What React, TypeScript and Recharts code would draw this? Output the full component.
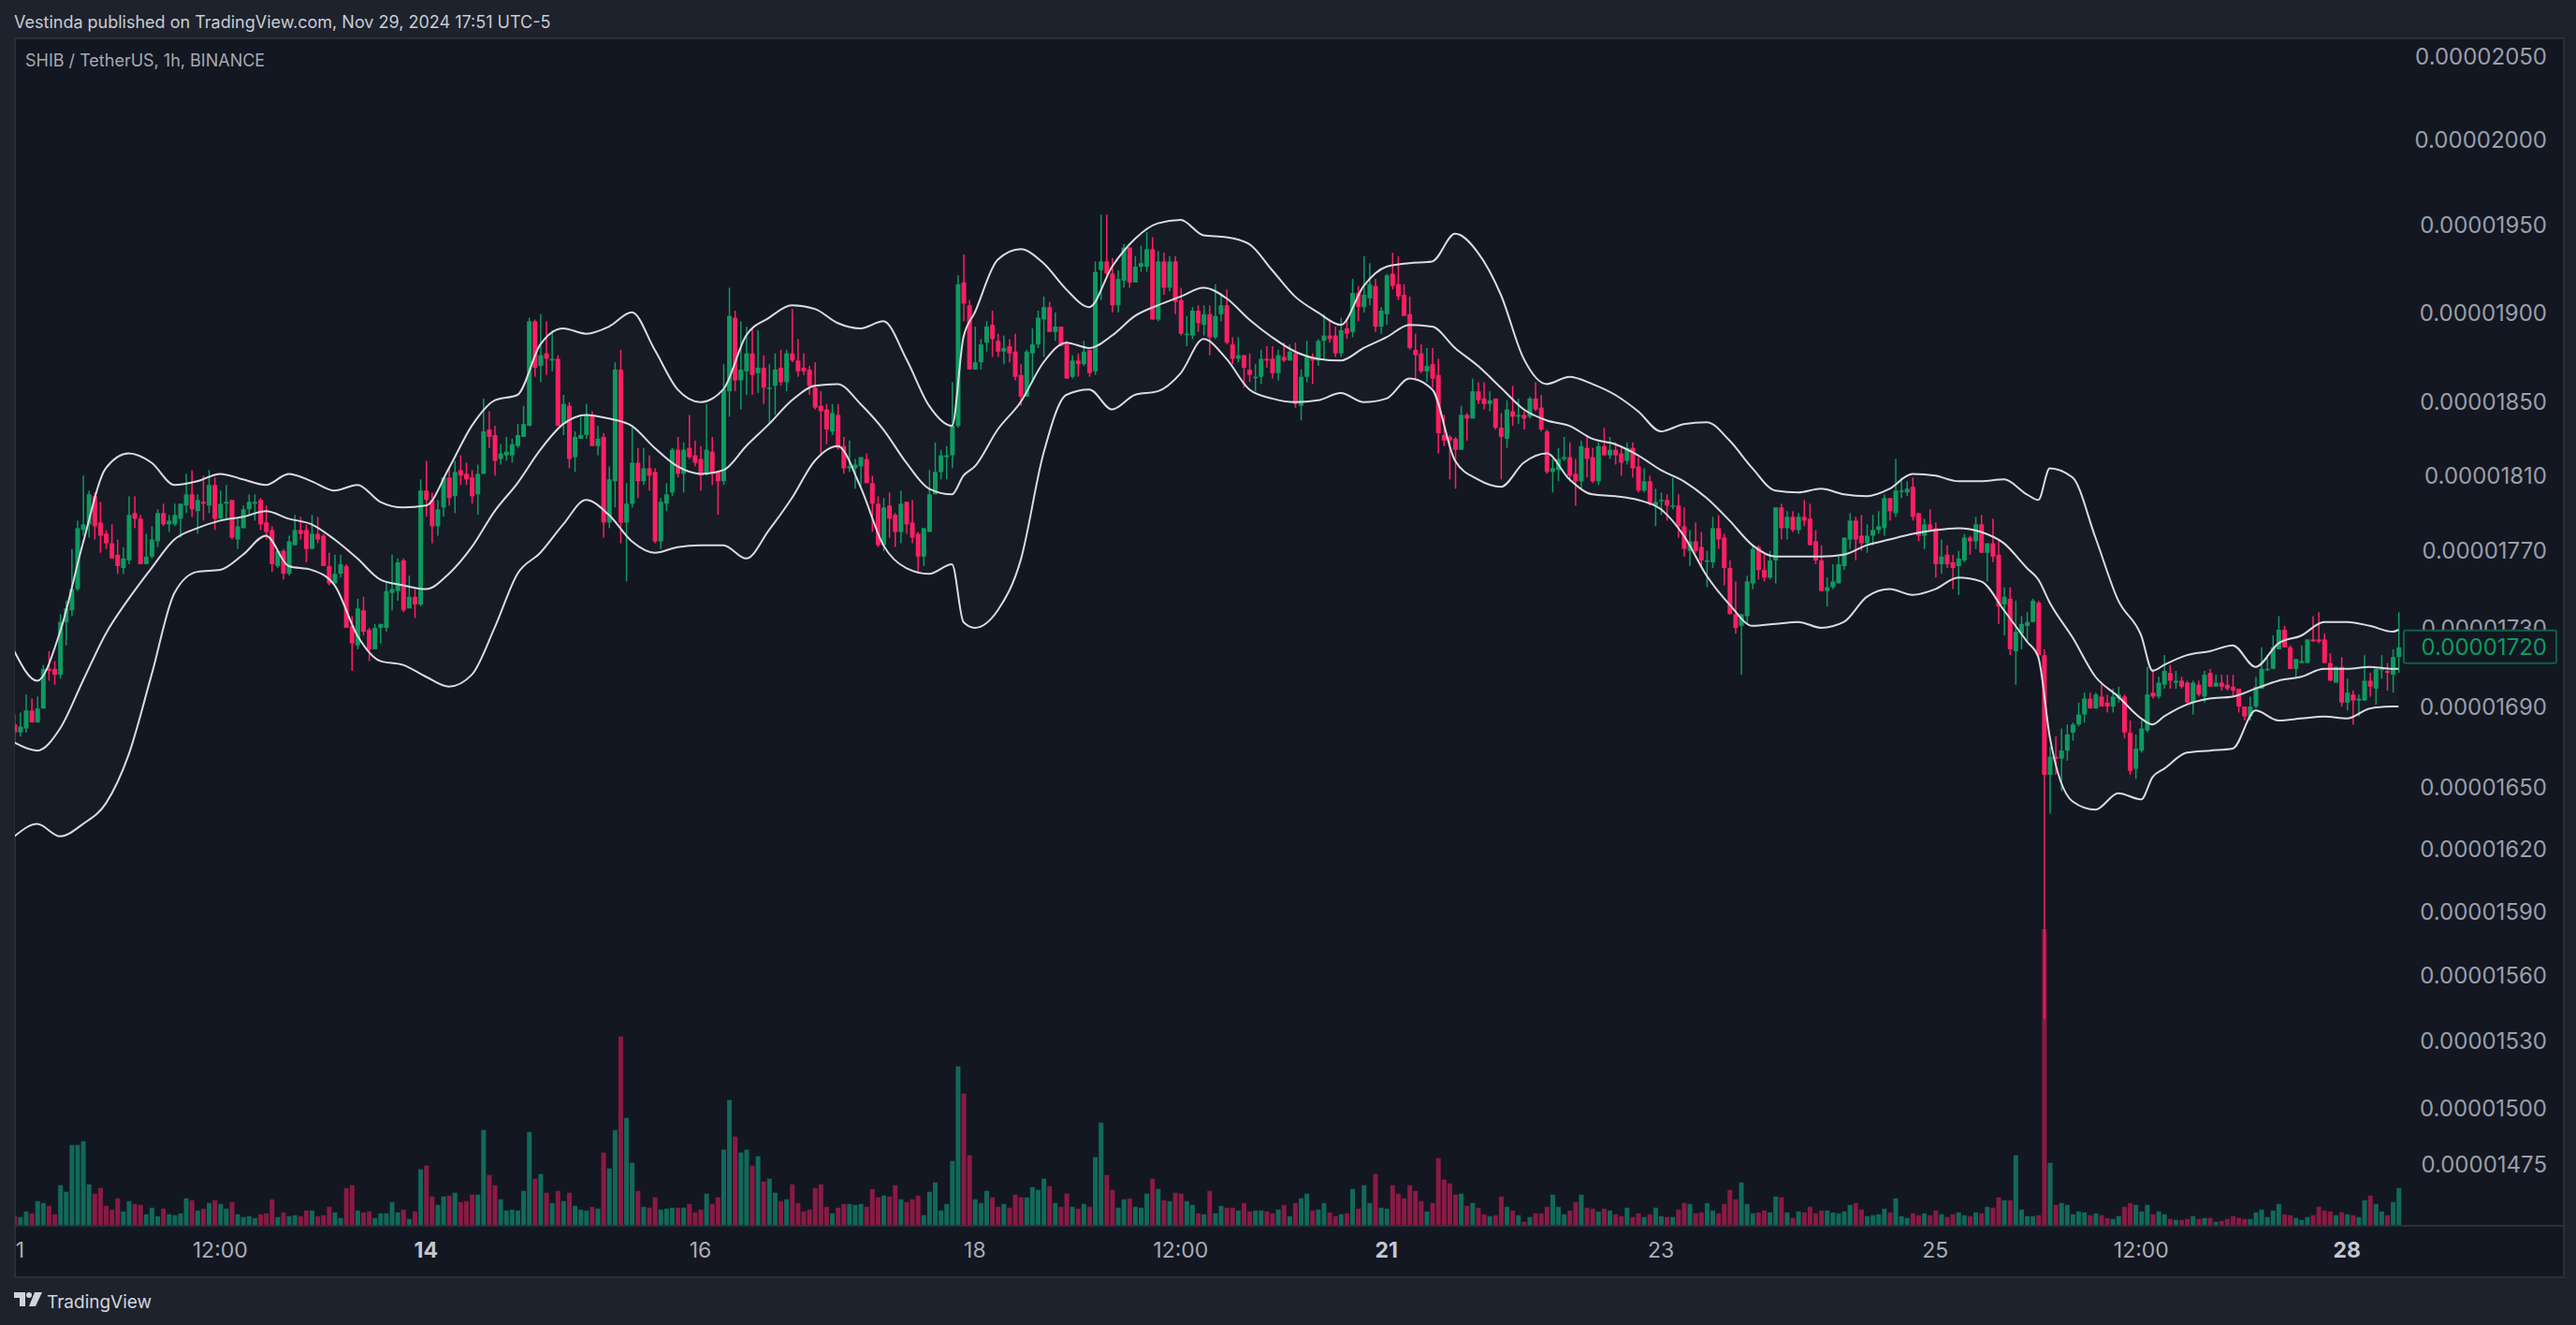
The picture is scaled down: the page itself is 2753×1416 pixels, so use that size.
import { Area, Bar, ComposedChart, Line, XAxis, YAxis } from 'recharts'

// SHIB/USDT 1h, prices in units of 0.00000001, hour 0 = Nov 11 00:00
const opens = [
  1681,1677,1679,1688,1682,1689,1709,1709,1706,1733, 1739,1750,1781,1784,1799,1785,1779,1774,1768,1761,
  1765,1790,1787,1763,1767,1775,1790,1784,1784,1787, 1794,1800,1791,1796,1794,1805,1787,1795,1797,1776,
  1782,1792,1795,1797,1785,1781,1762,1770,1758,1773, 1781,1781,1771,1779,1778,1762,1753,1758,1762,1731,
  1721,1739,1729,1719,1730,1730,1748,1749,1765,1740, 1746,1742,1802,1797,1783,1793,1809,1799,1813,1811,
  1809,1800,1811,1835,1832,1819,1821,1821,1826,1831, 1837,1895,1870,1877,1873,1874,1838,1848,1820,1830,
  1832,1843,1826,1831,1785,1807,1868,1785,1795,1817, 1807,1814,1812,1775,1795,1801,1824,1811,1825,1821,
  1819,1811,1823,1812,1807,1856,1897,1862,1867,1877, 1866,1869,1858,1859,1869,1861,1877,1873,1869,1868,
  1858,1848,1846,1834,1843,1826,1814,1814,1815,1819, 1806,1795,1773,1794,1789,1780,1796,1785,1779,1767,
  1780,1800,1812,1820,1821,1837,1917,1904,1868,1872, 1883,1893,1884,1878,1881,1878,1865,1853,1877,1882,
  1896,1903,1889,1892,1882,1864,1873,1871,1879,1867, 1924,1929,1922,1904,1918,1937,1917,1926,1926,1936,
  1896,1929,1914,1929,1907,1888,1887,1901,1893,1899, 1886,1899,1904,1882,1874,1876,1868,1864,1864,1874,
  1874,1866,1875,1873,1877,1848,1864,1875,1873,1884, 1887,1887,1877,1891,1889,1911,1903,1908,1915,1892,
  1899,1922,1916,1910,1899,1879,1877,1867,1871,1865, 1832,1831,1830,1824,1843,1841,1856,1852,1849,1852,
  1836,1830,1845,1842,1843,1842,1852,1847,1834,1812, 1813,1819,1820,1811,1807,1825,1820,1807,1826,1821,
  1824,1822,1818,1825,1815,1802,1807,1794,1797,1797, 1794,1794,1783,1770,1775,1772,1765,1764,1782,1777,
  1761,1737,1731,1736,1753,1772,1760,1756,1765,1793, 1782,1788,1781,1788,1787,1775,1765,1749,1751,1753,
  1762,1776,1786,1778,1774,1778,1781,1782,1798,1790, 1802,1801,1804,1790,1778,1784,1782,1763,1768,1764,
  1762,1765,1777,1775,1784,1769,1774,1768,1742,1745, 1718,1727,1731,1733,1743,1716,1656,1665,1664,1668,
  1677,1681,1686,1694,1689,1695,1692,1690,1694,1695, 1677,1659,1668,1678,1697,1695,1701,1707,1702,1703,
  1702,1692,1701,1695,1707,1700,1702,1701,1700,1699, 1690,1685,1690,1699,1709,1709,1719,1729,1720,1709,
  1712,1712,1724,1724,1724,1712,1702,1710,1692,1696, 1693,1693,1703,1699,1709,1708,1706,1715,
]
const highs = [
  1686,1687,1696,1694,1695,1711,1718,1713,1737,1744, 1771,1786,1810,1802,1801,1796,1781,1784,1776,1772,
  1799,1799,1789,1779,1783,1792,1795,1789,1795,1795, 1811,1813,1800,1810,1813,1809,1802,1805,1797,1787,
  1794,1800,1800,1798,1794,1783,1770,1771,1778,1789, 1788,1784,1789,1788,1779,1769,1768,1768,1763,1736,
  1745,1746,1730,1732,1732,1754,1768,1766,1766,1757, 1750,1808,1818,1801,1797,1809,1815,1818,1821,1817,
  1813,1816,1852,1845,1837,1827,1831,1830,1838,1848, 1897,1896,1899,1895,1890,1876,1854,1850,1834,1842,
  1849,1845,1837,1833,1815,1872,1879,1806,1836,1825, 1825,1821,1814,1798,1806,1825,1831,1828,1843,1829,
  1826,1849,1831,1812,1871,1914,1901,1895,1892,1891, 1890,1876,1871,1877,1879,1879,1902,1885,1877,1870,
  1872,1856,1849,1849,1849,1831,1829,1819,1820,1822, 1810,1799,1798,1801,1790,1802,1796,1797,1780,1782,
  1813,1828,1824,1826,1861,1921,1933,1907,1892,1885, 1895,1901,1888,1887,1885,1888,1871,1879,1891,1901,
  1909,1906,1900,1892,1884,1876,1877,1884,1879,1929, 1956,1956,1931,1924,1939,1937,1932,1938,1946,1943,
  1935,1934,1932,1932,1914,1898,1903,1904,1904,1904, 1916,1911,1913,1886,1886,1876,1877,1871,1879,1881,
  1881,1879,1883,1882,1883,1868,1884,1877,1885,1899, 1896,1892,1897,1897,1919,1915,1932,1928,1919,1903,
  1922,1934,1932,1916,1909,1888,1882,1880,1880,1874, 1843,1832,1831,1848,1844,1863,1861,1861,1856,1852,
  1844,1851,1859,1852,1845,1853,1861,1854,1835,1819, 1825,1831,1828,1819,1829,1832,1825,1828,1836,1831,
  1828,1825,1828,1828,1820,1814,1810,1803,1801,1800, 1809,1800,1793,1781,1785,1780,1770,1788,1789,1779,
  1765,1754,1737,1757,1773,1773,1768,1770,1793,1795, 1791,1791,1790,1797,1795,1781,1773,1756,1763,1767,
  1777,1790,1788,1789,1784,1789,1791,1800,1798,1819, 1809,1807,1809,1790,1787,1792,1785,1776,1773,1768,
  1770,1779,1778,1788,1789,1774,1787,1776,1751,1751, 1744,1736,1738,1745,1744,1719,1670,1675,1679,1681,
  1682,1692,1697,1697,1697,1701,1696,1699,1700,1696, 1683,1676,1683,1710,1709,1705,1716,1711,1708,1705,
  1703,1703,1703,1708,1709,1706,1706,1706,1706,1699, 1690,1695,1705,1720,1716,1726,1736,1731,1721,1714,
  1721,1724,1736,1738,1727,1717,1710,1715,1704,1698, 1696,1716,1707,1709,1716,1712,1719,1738,
]
const lows = [
  1672,1675,1677,1682,1682,1689,1703,1701,1704,1721, 1736,1749,1778,1777,1776,1769,1771,1766,1758,1758,
  1763,1782,1763,1763,1766,1772,1783,1780,1783,1777, 1790,1788,1779,1786,1790,1781,1787,1787,1776,1771,
  1782,1789,1786,1781,1776,1759,1761,1755,1757,1773, 1776,1764,1771,1774,1762,1752,1753,1756,1730,1708,
  1719,1726,1713,1719,1722,1728,1739,1744,1738,1740, 1735,1741,1788,1774,1778,1788,1794,1790,1805,1805,
  1795,1789,1811,1825,1810,1816,1818,1817,1825,1831, 1837,1864,1861,1865,1867,1837,1832,1814,1812,1830,
  1830,1826,1821,1777,1782,1793,1774,1754,1793,1798, 1805,1802,1774,1771,1791,1799,1809,1801,1819,1815,
  1802,1810,1805,1789,1805,1842,1856,1846,1854,1854, 1855,1849,1838,1843,1859,1856,1872,1864,1865,1854,
  1846,1822,1827,1832,1824,1811,1812,1803,1804,1806, 1780,1772,1770,1777,1772,1774,1779,1774,1759,1762,
  1780,1800,1808,1808,1814,1836,1895,1868,1868,1868, 1878,1875,1875,1871,1872,1862,1848,1853,1861,1880,
  1875,1889,1884,1881,1863,1863,1864,1870,1864,1865, 1907,1921,1900,1900,1914,1914,1917,1923,1923,1896,
  1895,1910,1912,1899,1887,1881,1885,1889,1887,1876, 1885,1895,1882,1871,1872,1858,1861,1856,1860,1869,
  1863,1862,1872,1873,1847,1840,1861,1860,1870,1874, 1883,1875,1875,1885,1886,1895,1900,1904,1889,1888,
  1893,1913,1907,1898,1879,1862,1866,1861,1858,1822, 1826,1808,1803,1824,1829,1841,1849,1846,1845,1835,
  1808,1825,1837,1838,1835,1841,1845,1834,1811,1801, 1807,1818,1807,1794,1803,1809,1806,1805,1821,1819,
  1816,1810,1816,1809,1801,1801,1794,1783,1789,1786, 1792,1777,1767,1762,1769,1762,1751,1761,1771,1752,
  1737,1727,1706,1732,1750,1755,1754,1755,1753,1776, 1776,1780,1779,1783,1773,1763,1749,1741,1750,1753,
  1760,1771,1765,1770,1769,1773,1779,1778,1786,1788, 1798,1799,1786,1775,1771,1780,1756,1758,1761,1750,
  1747,1764,1768,1771,1769,1754,1764,1732,1726,1716, 1701,1719,1723,1733,1715,1540,1637,1656,1648,1663,
  1673,1680,1682,1689,1689,1690,1687,1687,1692,1674, 1656,1654,1667,1677,1694,1694,1699,1699,1699,1699,
  1691,1686,1695,1692,1700,1700,1698,1698,1695,1687, 1683,1683,1689,1699,1708,1709,1719,1720,1709,1705,
  1712,1712,1723,1722,1712,1703,1702,1690,1688,1681, 1685,1693,1695,1691,1704,1698,1697,1707,
]
const closes = [
  1677,1680,1688,1682,1689,1709,1708,1706,1733,1740, 1750,1782,1784,1800,1783,1778,1774,1766,1762,1766,
  1789,1787,1763,1767,1776,1790,1784,1786,1789,1795, 1800,1792,1797,1795,1805,1787,1795,1796,1777,1783,
  1792,1796,1796,1784,1780,1763,1770,1758,1775,1781, 1779,1771,1779,1776,1762,1753,1758,1763,1730,1722,
  1740,1728,1719,1730,1732,1749,1750,1764,1739,1746, 1742,1802,1797,1783,1792,1809,1798,1812,1810,1808,
  1799,1811,1834,1831,1818,1822,1823,1827,1832,1838, 1895,1869,1876,1874,1874,1837,1849,1819,1831,1832,
  1843,1826,1830,1785,1808,1868,1785,1795,1817,1807, 1814,1810,1775,1796,1800,1824,1811,1824,1820,1817,
  1810,1824,1811,1807,1857,1898,1862,1868,1877,1865, 1869,1858,1858,1868,1861,1877,1873,1867,1867,1859,
  1847,1845,1835,1844,1825,1814,1815,1816,1820,1806, 1795,1773,1793,1787,1780,1795,1784,1777,1767,1782,
  1800,1812,1821,1821,1837,1916,1905,1868,1872,1882, 1892,1885,1878,1880,1877,1864,1853,1878,1882,1897,
  1903,1889,1892,1881,1863,1873,1871,1878,1866,1923, 1929,1922,1904,1919,1937,1917,1926,1928,1936,1896,
  1929,1914,1929,1906,1888,1888,1901,1894,1899,1886, 1898,1904,1883,1874,1876,1869,1865,1864,1874,1873,
  1866,1876,1873,1878,1849,1864,1875,1873,1884,1887, 1885,1877,1890,1888,1911,1903,1910,1916,1892,1901,
  1921,1915,1909,1898,1880,1876,1867,1870,1863,1833, 1829,1829,1824,1843,1841,1856,1851,1849,1851,1836,
  1831,1846,1842,1843,1841,1852,1846,1835,1812,1814, 1819,1820,1810,1807,1826,1819,1807,1826,1821,1824,
  1821,1817,1825,1814,1802,1807,1795,1796,1797,1794, 1794,1783,1771,1775,1770,1765,1765,1782,1776,1761,
  1737,1730,1737,1754,1771,1760,1756,1765,1793,1782, 1788,1781,1788,1786,1773,1765,1749,1751,1754,1763,
  1777,1786,1776,1774,1778,1781,1783,1798,1791,1802, 1802,1803,1788,1778,1784,1781,1763,1767,1763,1761,
  1766,1777,1775,1784,1769,1774,1767,1741,1746,1719, 1728,1732,1733,1744,1716,1656,1665,1664,1668,1676,
  1681,1686,1694,1689,1696,1690,1690,1695,1696,1677, 1658,1669,1679,1696,1695,1702,1708,1703,1703,1700,
  1692,1702,1696,1706,1700,1702,1700,1699,1698,1690, 1685,1690,1700,1709,1709,1720,1729,1720,1709,1714,
  1713,1724,1723,1723,1712,1703,1710,1692,1697,1693, 1694,1703,1700,1709,1709,1707,1715,1720,
]
const volumes = [
  28,25,43,37,76,70,61,34,127,106, 256,256,268,130,100,118,61,49,85,43,
  76,67,64,34,55,28,52,34,31,37, 85,79,46,52,70,79,67,52,73,34,
  25,28,22,34,37,82,25,40,28,31, 28,46,46,28,31,58,40,22,118,127,
  46,40,43,22,37,37,73,40,49,19, 43,178,190,91,64,91,94,103,73,76,
  97,97,304,160,127,82,46,49,46,109, 298,148,163,103,70,109,76,103,61,49,
  46,58,52,232,181,304,604,343,199,109, 58,55,88,49,52,55,55,55,67,40,
  49,100,67,88,241,400,283,232,241,190, 220,139,148,103,76,82,130,70,43,49,
  118,130,58,37,55,67,67,64,67,58, 115,88,94,91,127,82,73,82,94,31,
  106,136,46,67,205,508,421,223,82,70, 109,88,58,67,55,97,88,88,121,112,
  148,124,70,58,100,58,52,67,58,217, 328,160,112,55,82,85,58,55,100,148,
  115,79,76,103,100,76,64,37,34,109, 37,61,55,55,46,70,43,46,46,43,
  37,49,64,28,70,85,100,46,49,70, 40,28,34,37,115,52,127,70,163,55,
  52,127,100,85,127,109,76,43,70,214, 145,133,97,100,61,70,55,34,28,31,
  91,58,46,31,10,25,37,37,58,97, 58,34,46,73,97,55,52,43,52,46,
  34,28,55,25,37,25,34,55,28,25, 25,49,70,67,37,40,70,46,37,67,
  112,82,136,67,37,40,46,40,91,88, 40,22,43,40,58,37,46,46,40,37,
  43,64,70,49,28,31,34,52,40,85, 28,22,37,31,37,31,46,34,25,34,
  40,31,28,40,37,58,55,88,79,79, 223,49,28,28,31,948,199,64,70,64,
  34,43,40,31,37,31,22,19,28,58, 70,64,43,64,34,43,34,19,16,16,
  19,28,19,22,22,10,13,19,28,22, 19,19,40,49,25,46,67,34,31,22,
  16,25,31,58,46,43,31,40,34,31, 25,79,94,67,43,31,73,118,
]

const bandHours = [
  0,4,8,12,16,20,24,28,32,36,40,44,48,52,56,60,64,68,72,76,80,84,88,92,96,100,104,108,112,116,120,124,128,132,136,140,144,148,152,156,160,164,166,168,
  172,176,180,184,188,192,196,200,204,208,212,216,220,224,228,232,236,240,244,248,252,256,260,264,268,272,276,280,284,288,292,296,300,304,308,312,316,320,
  324,328,332,336,340,344,348,352,354,356,360,364,368,372,374,376,380,384,388,392,396,400,404,408,412,416,417,
]
const upperBand = [
  1718,1703,1728,1774,1814,1822,1817,1805,1807,1811,1808,1805,1811,1807,1802,1805,1796,1793,1794,1814,1837,1851,1854,1882,1891,1888,1892,1900,1879,1857,1850,1857,1887,1897,1904,1902,1894,1891,1895,1874,1848,1837,1886,1900,
  1930,1936,1928,1913,1903,1926,1942,1951,1953,1944,1943,1939,1924,1909,1900,1893,1915,1926,1928,1929,1945,1934,1910,1874,1860,1864,1860,1854,1845,1834,1838,1839,1829,1814,1802,1801,1803,1800,
  1799,1803,1811,1810,1807,1807,1808,1800,1797,1814,1809,1777,1744,1726,1708,1711,1716,1718,1721,1710,1722,1726,1733,1733,1731,1728,1729,
]
const basisBand = [
  1672,1668,1679,1703,1727,1745,1761,1776,1782,1786,1788,1791,1787,1784,1776,1766,1755,1752,1750,1758,1772,1791,1806,1824,1838,1843,1841,1837,1825,1815,1811,1813,1826,1838,1851,1859,1860,1849,1835,1817,1803,1800,1810,1815,
  1835,1850,1872,1883,1880,1887,1898,1904,1909,1914,1908,1896,1886,1878,1874,1873,1880,1886,1893,1892,1880,1870,1858,1846,1840,1837,1830,1827,1821,1813,1807,1798,1786,1773,1767,1767,1767,1768,
  1773,1776,1779,1781,1782,1780,1774,1761,1755,1743,1725,1705,1695,1684,1681,1685,1691,1694,1695,1699,1703,1705,1709,1709,1710,1709,1709,
]
const lowerBand = [
  1626,1632,1626,1632,1642,1666,1706,1748,1759,1760,1768,1778,1762,1760,1752,1726,1713,1711,1705,1700,1706,1730,1758,1769,1784,1797,1789,1775,1769,1772,1773,1773,1766,1781,1798,1818,1826,1804,1773,1761,1758,1763,1733,1730,
  1739,1765,1822,1854,1857,1846,1854,1856,1866,1885,1874,1857,1852,1850,1851,1855,1850,1852,1863,1857,1818,1808,1804,1817,1822,1808,1800,1799,1797,1792,1778,1757,1742,1731,1732,1733,1730,1733,
  1746,1750,1747,1750,1756,1754,1739,1723,1715,1675,1643,1639,1647,1644,1655,1659,1667,1668,1669,1688,1683,1684,1685,1684,1689,1690,1690,
]

const priceTicks = [2050,2000,1950,1900,1850,1810,1770,1730,1690,1650,1620,1590,1560,1530,1500,1475,1720]
const LAST_PRICE = 1720
const timeTicks = [1,36,72,120,168,204,240,288,336,372,408]
const timeLabels = ['1','12:00','14','16','18','12:00','21','23','25','12:00','28']
const boldLabels = ['14','21','28']

const UP = '#0e9a60'
const DOWN = '#ff1f63'
const VOL_UP = '#11695a'
const VOL_DOWN = '#8a1a44'
const FONT = 'Inter, "Noto Sans", sans-serif'

const bandByHour = new Map(bandHours.map((h, k) => [h, k]))
const rows = closes.map((close, i) => {
  const k = bandByHour.get(i)
  return {
    hour: i,
    open: opens[i],
    close,
    high: highs[i],
    low: lows[i],
    range: [lows[i], highs[i]],
    volume: volumes[i],
    upper: k == null ? null : upperBand[k],
    basis: k == null ? null : basisBand[k],
    lower: k == null ? null : lowerBand[k],
    band: k == null ? null : [lowerBand[k], upperBand[k]],
  }
})

function Candle(props: any) {
  const { x, y, width, height, payload } = props
  const top = Math.min(y, y + height)
  const span = Math.abs(height)
  const cx = x + width / 2
  const { open, close, high, low } = payload
  // bar covers low..high on the log axis, so place the body inside it the same way
  const at = (p: number) => top + ((Math.log(high) - Math.log(p)) / (Math.log(high) - Math.log(low))) * span
  const color = close >= open ? UP : DOWN
  const bodyTop = at(Math.max(open, close))
  const bodyHeight = Math.max(at(Math.min(open, close)) - bodyTop, 1.5)
  return (
    <g>
      <rect x={cx - 0.75} y={top} width={1.5} height={span} fill={color} />
      <rect x={cx - 2.5} y={bodyTop} width={5} height={bodyHeight} fill={color} />
    </g>
  )
}

function VolumeBar(props: any) {
  const { x, y, width, height, payload } = props
  return <rect x={x} y={y} width={width} height={height} fill={payload.close >= payload.open ? VOL_UP : VOL_DOWN} />
}

function PriceTick({ y, payload }: any) {
  const label = (payload.value / 1e8).toFixed(8)
  if (payload.value === LAST_PRICE) {
    return (
      <g>
        <rect x={2569} y={y - 18} width={163} height={35} rx={2} fill="#131722" stroke="#0f5f49" strokeWidth={2} />
        <text x={2722} y={y} dy="0.36em" textAnchor="end" fontFamily={FONT} fontSize={24} fill={UP}>{label}</text>
      </g>
    )
  }
  return <text x={2722} y={y} dy="0.36em" textAnchor="end" fontFamily={FONT} fontSize={24} fill="#9b9ea8">{label}</text>
}

function TimeTick({ x, payload }: any) {
  const label = timeLabels[timeTicks.indexOf(payload.value)]
  const bold = boldLabels.includes(label)
  return (
    <text x={x} y={1336} dy="0.36em" textAnchor="middle" fontFamily={FONT} fontSize={23} fontWeight={bold ? 700 : 400} fill={bold ? '#c4c7d0' : '#a9acb6'}>
      {label}
    </text>
  )
}

export default function App() {
  return (
    <div style={{ position: 'absolute', left: 0, top: 0, width: 2753, height: 1416, background: '#1e222d', overflow: 'hidden', fontFamily: FONT }}>
      <div style={{ position: 'absolute', left: 15, top: 40, width: 2722, height: 1322, background: '#131722', border: '2px solid #2a2e39' }} />
      <div style={{ position: 'absolute', left: 16, top: 1309, width: 2723, height: 2, background: '#2a2e39' }} />
      <div style={{ position: 'absolute', left: 15, top: 12, fontSize: 18, lineHeight: '24px', color: '#c8cbd3', whiteSpace: 'nowrap' }}>
        Vestinda published on TradingView.com, Nov 29, 2024 17:51 UTC-5
      </div>
      <div style={{ position: 'absolute', left: 27, top: 53, fontSize: 18, lineHeight: '24px', color: '#a6a9b2', whiteSpace: 'nowrap' }}>
        SHIB / TetherUS, 1h, BINANCE
      </div>
      <svg style={{ position: 'absolute', left: 15, top: 1381 }} width={30} height={16} viewBox="0 0 30 16">
        <path d="M0 0H12V15H6V6H0Z" fill="#d1d4dc" />
        <circle cx={16} cy={3} r={3} fill="#d1d4dc" />
        <path d="M22 0H30L23 15H16Z" fill="#d1d4dc" />
      </svg>
      <div style={{ position: 'absolute', left: 50, top: 1378, fontSize: 19, lineHeight: '28px', color: '#d1d4dc', whiteSpace: 'nowrap' }}>TradingView</div>
      <div style={{ position: 'absolute', left: 0, top: 0 }}>
        <ComposedChart width={2753} height={1416} data={rows} margin={{ top: 40, right: 14, bottom: 53, left: 16 }}>
          <XAxis
            dataKey="hour"
            type="number"
            domain={[0.11, 418.1]}
            allowDataOverflow
            ticks={timeTicks}
            interval={0}
            height={54}
            tick={<TimeTick />}
            tickLine={false}
            axisLine={false}
          />
          <XAxis xAxisId="vol" dataKey="hour" type="number" domain={[0.11, 418.1]} allowDataOverflow hide />
          <YAxis
            orientation="right"
            scale="log"
            domain={[1448.7, 2061.8]}
            allowDataOverflow
            ticks={priceTicks}
            interval={0}
            width={169}
            tick={<PriceTick />}
            tickLine={false}
            axisLine={false}
          />
          <YAxis yAxisId="vol" domain={[0, 3807]} allowDataOverflow hide />
          <Area type="monotone" dataKey="band" stroke="none" fill="#171b26" fillOpacity={1} connectNulls dot={false} activeDot={false} isAnimationActive={false} />
          <Line type="monotone" dataKey="upper" stroke="#d9dbe0" strokeWidth={2} connectNulls dot={false} activeDot={false} isAnimationActive={false} />
          <Line type="monotone" dataKey="basis" stroke="#d9dbe0" strokeWidth={2} connectNulls dot={false} activeDot={false} isAnimationActive={false} />
          <Line type="monotone" dataKey="lower" stroke="#d9dbe0" strokeWidth={2} connectNulls dot={false} activeDot={false} isAnimationActive={false} />
          <Bar xAxisId="vol" yAxisId="vol" dataKey="volume" barSize={5} shape={<VolumeBar />} isAnimationActive={false} />
          <Bar dataKey="range" barSize={5} shape={<Candle />} isAnimationActive={false} />
        </ComposedChart>
      </div>
    </div>
  )
}
